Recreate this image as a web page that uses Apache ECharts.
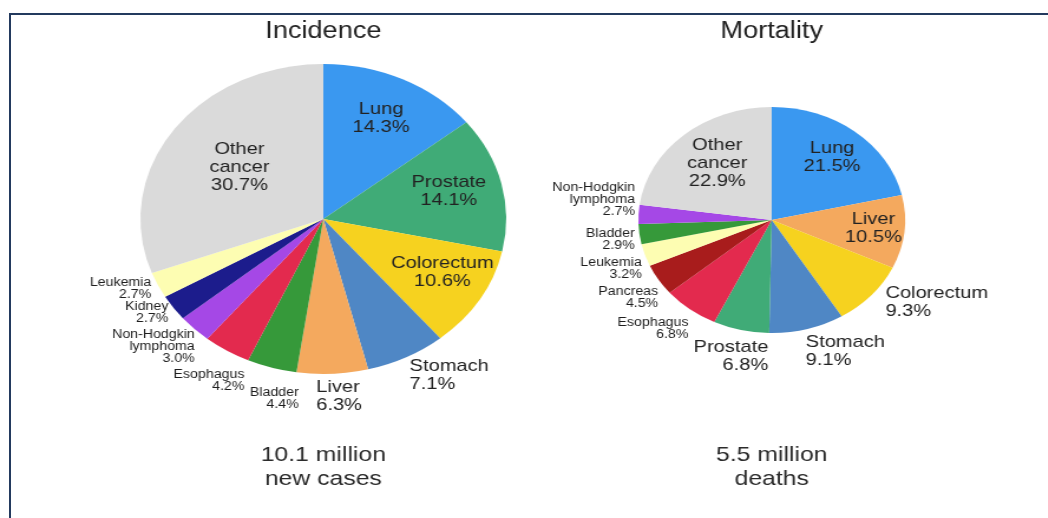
<!DOCTYPE html>
<html>
<head>
<meta charset="utf-8">
<title>Cancer incidence and mortality</title>
<script src="https://cdn.jsdelivr.net/npm/echarts@6/dist/echarts.min.js"></script>
<style>
  html, body { margin: 0; padding: 0; background: #fff; overflow: hidden; width: 1048px; height: 518px; }
  /* the chart is laid out in a narrower box and widened, which gives the pies their oval shape */
  #chart { position: absolute; left: 0; top: 0; width: 888px; height: 518px; transform: scaleX(1.18); transform-origin: 0 0; }
  #frame { position: absolute; left: 9px; top: 13px; width: 1100px; height: 600px;
           border-top: 2px solid #233a5e; border-left: 2px solid #233a5e; pointer-events: none; }
</style>
</head>
<body>
<div id="chart"></div>
<div id="frame"></div>
<script>
// ---- data ----
const incidenceNames  = ['Lung', 'Prostate', 'Colorectum', 'Stomach', 'Liver', 'Bladder',
                         'Esophagus', 'Non-Hodgkin lymphoma', 'Kidney', 'Leukemia', 'Other cancer'];
const incidenceValues = [14.3, 14.1, 10.6, 7.1, 6.3, 4.4, 4.2, 3.0, 2.7, 2.7, 30.7];

const mortalityNames  = ['Lung', 'Liver', 'Colorectum', 'Stomach', 'Prostate', 'Esophagus',
                         'Pancreas', 'Leukemia', 'Bladder', 'Non-Hodgkin lymphoma', 'Other cancer'];
const mortalityValues = [21.5, 10.5, 9.3, 9.1, 6.8, 6.8, 4.5, 3.2, 2.9, 2.7, 22.9];

const panelTitles = ['Incidence', 'Mortality'];
const panelTotals = ['10.1 million\nnew cases', '5.5 million\ndeaths'];

// ---- styling ----
const sliceColors = {
  'Lung': '#3a98f0',
  'Prostate': '#40ab77',
  'Colorectum': '#f6d21f',
  'Stomach': '#4f87c5',
  'Liver': '#f4a95e',
  'Bladder': '#36993a',
  'Esophagus': '#e32a4e',
  'Non-Hodgkin lymphoma': '#a548e6',
  'Kidney': '#1c1c8c',
  'Leukemia': '#fdfdb2',
  'Pancreas': '#a81c1c',
  'Other cancer': '#dadada'
};

// label placement: inside / outside, size class, and nudge from the default spot
const incidenceLabelStyle = {
  'Lung':                 { pos: 'inside',  small: false, dx: 14,  dy: -28 },
  'Prostate':             { pos: 'inside',  small: false, dx: 28,  dy: -9 },
  'Colorectum':           { pos: 'inside',  small: false, dx: 32,  dy: 12 },
  'Other cancer':         { pos: 'inside',  small: false, dx: -5,  dy: -6 },
  'Stomach':              { pos: 'outside', small: false, dx: -4,  dy: 15 },
  'Liver':                { pos: 'outside', small: false, dx: -19, dy: 19 },
  'Bladder':              { pos: 'outside', small: true,  dx: 29,  dy: 27 },
  'Esophagus':            { pos: 'outside', small: true,  dx: 22,  dy: 27 },
  'Non-Hodgkin lymphoma': { pos: 'outside', small: true,  dx: 8,   dy: 15 },
  'Kidney':               { pos: 'outside', small: true,  dx: 4,   dy: 3 },
  'Leukemia':             { pos: 'outside', small: true,  dx: 3,   dy: 2 }
};
const mortalityLabelStyle = {
  'Lung':                 { pos: 'inside',  small: false, dx: 14,  dy: -16 },
  'Liver':                { pos: 'inside',  small: false, dx: 27,  dy: 2 },
  'Other cancer':         { pos: 'inside',  small: false, dx: -7,  dy: -12 },
  'Colorectum':           { pos: 'outside', small: false, dx: 4,   dy: 5 },
  'Stomach':              { pos: 'outside', small: false, dx: -7,  dy: 18 },
  'Prostate':             { pos: 'outside', small: false, dx: 29,  dy: 22 },
  'Esophagus':            { pos: 'outside', small: true,  dx: 6,   dy: 16 },
  'Pancreas':             { pos: 'outside', small: true,  dx: 8,   dy: 16 },
  'Leukemia':             { pos: 'outside', small: true,  dx: 6,   dy: 12 },
  'Bladder':              { pos: 'outside', small: true,  dx: 5,   dy: 5 },
  'Non-Hodgkin lymphoma': { pos: 'outside', small: true,  dx: 6,   dy: -14 }
};

const FONT = "'Liberation Sans', Arial, Helvetica, sans-serif";

function buildData(names, values, styles) {
  return names.map(function (n, i) {
    const st = styles[n];
    return {
      name: n,
      value: values[i],
      itemStyle: { color: sliceColors[n] },
      label: {
        position: st.pos,
        fontSize: st.small ? 12 : 17,
        lineHeight: st.small ? 12 : 18,
        color: st.small ? '#1e1e1e' : '#222'
      }
    };
  });
}

function pieSeries(names, values, styles, center, radius) {
  return {
    type: 'pie',
    center: center,
    radius: radius,
    startAngle: 90,
    clockwise: true,
    avoidLabelOverlap: false,
    itemStyle: { borderWidth: 0 },
    label: {
      show: true,
      fontFamily: FONT,
      formatter: function (p) {
        return p.name.replace(' ', '\n') + '\n' + p.value.toFixed(1) + '%';
      }
    },
    labelLine: { show: false, length: 4, length2: 0 },
    labelLayout: function (p) {
      const st = styles[names[p.dataIndex]];
      return { dx: st.dx, dy: st.dy };
    },
    emphasis: { disabled: true },
    data: buildData(names, values, styles)
  };
}

const panelX = [274, 654];

const chart = echarts.init(document.getElementById('chart'), null, { renderer: 'canvas' });
chart.setOption({
  animation: false,
  backgroundColor: '#ffffff',
  title: [
    { text: panelTitles[0], left: panelX[0], top: 19, textAlign: 'center', padding: 0,
      textStyle: { fontFamily: FONT, fontSize: 23, fontWeight: 'normal', color: '#222', lineHeight: 26 } },
    { text: panelTitles[1], left: panelX[1], top: 19, textAlign: 'center', padding: 0,
      textStyle: { fontFamily: FONT, fontSize: 23, fontWeight: 'normal', color: '#222', lineHeight: 26 } },
    { text: panelTotals[0], left: panelX[0], top: 443, textAlign: 'center', padding: 0,
      textStyle: { fontFamily: FONT, fontSize: 21, fontWeight: 'normal', color: '#2b2b2b', lineHeight: 24 } },
    { text: panelTotals[1], left: panelX[1], top: 443, textAlign: 'center', padding: 0,
      textStyle: { fontFamily: FONT, fontSize: 21, fontWeight: 'normal', color: '#2b2b2b', lineHeight: 24 } }
  ],
  series: [
    pieSeries(incidenceNames, incidenceValues, incidenceLabelStyle, [panelX[0], 219], 155),
    pieSeries(mortalityNames, mortalityValues, mortalityLabelStyle, [panelX[1], 220], 113)
  ]
});
</script>
</body>
</html>
